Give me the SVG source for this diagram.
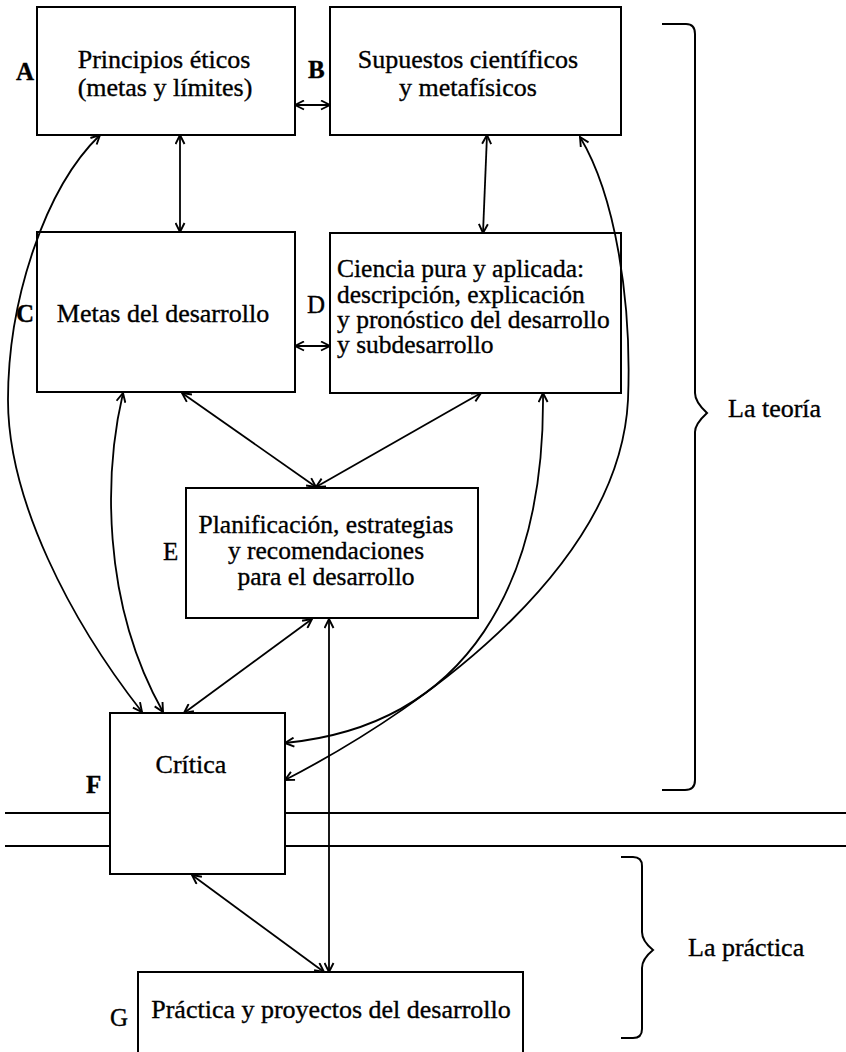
<svg xmlns="http://www.w3.org/2000/svg" width="846" height="1052" viewBox="0 0 846 1052">
<style>
.box{fill:#fff;stroke:#000;stroke-width:2}
.t{font-family:"Liberation Serif","Times New Roman",serif;font-size:26px;fill:#000;stroke:#000;stroke-width:0.35}
.m{font-size:25.5px}
.c{text-anchor:middle}
.lb{font-family:"Liberation Serif","Times New Roman",serif;font-size:25px;fill:#000;stroke:#000;stroke-width:0.35}
.b{font-weight:bold}
.ln{fill:none;stroke:#000;stroke-width:2}
.ar{fill:none;stroke:#000;stroke-width:1.8;marker-start:url(#ah);marker-end:url(#ah)}
</style>
<defs>
<marker id="ah" viewBox="0 0 11 11" refX="10" refY="5.5" markerWidth="11" markerHeight="11" markerUnits="userSpaceOnUse" orient="auto-start-reverse">
<path d="M1,1 L10,5.5 L1,10" fill="none" stroke="#000" stroke-width="1.9"/>
</marker>
</defs>
<rect width="846" height="1052" fill="#fff"/>
<g id="separators">
<line class="ln" x1="5" y1="813" x2="846" y2="813"/>
<line class="ln" x1="5" y1="846" x2="846" y2="846"/>
</g>
<g id="nodeA">
<rect class="box" x="37" y="7" width="258" height="128"/>
<text class="t c" x="164" y="68">Principios éticos</text>
<text class="t c" x="165" y="96">(metas y límites)</text>
<text class="lb b" x="16" y="80">A</text>
</g>
<g id="nodeB">
<rect class="box" x="330" y="7" width="291" height="128"/>
<text class="t c" x="468" y="68">Supuestos científicos</text>
<text class="t c" x="468" y="96">y metafísicos</text>
<text class="lb b" x="308" y="78">B</text>
</g>
<g id="nodeC">
<rect class="box" x="37" y="232" width="258" height="160"/>
<text class="t c" x="163" y="322">Metas del desarrollo</text>
<text class="lb b" x="16" y="322">C</text>
</g>
<g id="nodeD">
<rect class="box" x="330" y="233" width="291" height="160"/>
<text class="t m" x="337" y="277">Ciencia pura y aplicada:</text>
<text class="t m" x="337" y="303">descripción, explicación</text>
<text class="t m" x="337" y="328">y pronóstico del desarrollo</text>
<text class="t m" x="337" y="353">y subdesarrollo</text>
<text class="lb" x="307" y="313">D</text>
</g>
<g id="nodeE">
<rect class="box" x="186" y="488" width="292" height="130"/>
<text class="t m c" x="326" y="533">Planificación, estrategias</text>
<text class="t m c" x="326" y="559">y recomendaciones</text>
<text class="t m c" x="326" y="585">para el desarrollo</text>
<text class="lb" x="163" y="560">E</text>
</g>
<g id="nodeF">
<rect class="box" x="110" y="713" width="175" height="161"/>
<text class="t c" x="191" y="773">Crítica</text>
<text class="lb b" x="86" y="793">F</text>
</g>
<g id="nodeG">
<path class="box" d="M138,1060 L138,972 L523,972 L523,1060"/>
<text class="t c" x="331" y="1018">Práctica y proyectos del desarrollo</text>
<text class="lb" x="110" y="1026">G</text>
</g>
<g id="braces">
<path class="ln" d="M662,24 L686,24 Q695,24 695,34 L695,393 Q695,402 707,413 Q695,424 695,432 L695,780 Q695,790 685,790 L662,790"/>
<text class="t" x="728" y="417">La teoría</text>
<path class="ln" d="M621,857 L633,857 Q642,857 642,866 L642,932 Q642,941 653,950 Q642,959 642,968 L642,1029 Q642,1038 633,1038 L621,1038"/>
<text class="t" x="688" y="956">La práctica</text>
</g>
<g id="connectors">
<line class="ar" x1="295" y1="105" x2="330" y2="105"/>
<line class="ar" x1="180" y1="135" x2="180" y2="232"/>
<line class="ar" x1="487" y1="135" x2="483" y2="233"/>
<line class="ar" x1="295" y1="346" x2="330" y2="346"/>
<line class="ar" x1="182" y1="393" x2="316" y2="487"/>
<line class="ar" x1="481" y1="393" x2="316" y2="487"/>
<line class="ar" x1="312" y1="619" x2="184" y2="713"/>
<line class="ar" x1="329" y1="619" x2="329" y2="972"/>
<line class="ar" x1="192" y1="875" x2="324" y2="972"/>
<path class="ar" d="M100,135 C45,188 8,300 8,400 C8,500 70,620 142,712"/>
<path class="ar" d="M123,393 C105,470 100,600 163,712"/>
<path class="ar" d="M580,137 C615,195 632,300 628,400 C620,560 440,700 285,780"/>
<path class="ar" d="M543,393 C545,580 470,725 285,743"/>
</g>
</svg>
